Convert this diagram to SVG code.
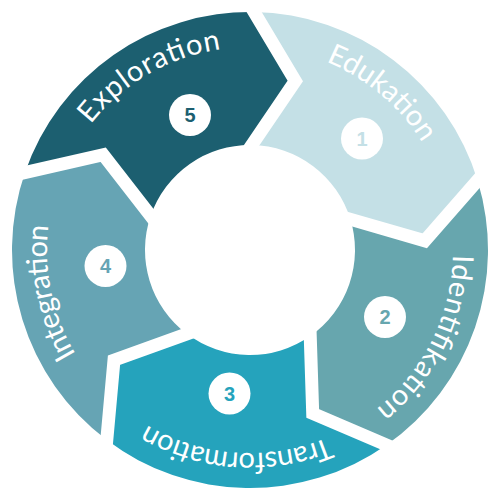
<svg xmlns="http://www.w3.org/2000/svg" xmlns:xlink="http://www.w3.org/1999/xlink" width="500" height="500" viewBox="0 0 500 500">
<style>
.lbl{font-family:"Lato","Liberation Sans",sans-serif;font-size:29px;font-weight:400;fill:#ffffff}
.num{font-family:"Liberation Sans","DejaVu Sans",sans-serif;font-size:20px;font-weight:bold;text-anchor:middle}
.badge{fill:#ffffff}
.gap{fill:none;stroke:#ffffff;stroke-width:13;stroke-linejoin:miter}
</style>
<defs>
<path id="a5" d="M59.24,180.57 A203,203 0 0 1 285.25,50.09"/>
<path id="a1" d="M250,47 A203,203 0 0 1 449.91,214.75"/>
<path id="a2" d="M447.40,202.62 A203,203 0 0 1 330.94,436.17"/>
<path id="a3" d="M369.32,414.23 A203,203 0 0 1 108.98,396.02"/>
<path id="a4" d="M125.01,409.96 A203,203 0 0 1 70.77,154.69"/>
<polyline id="sep" points="246.46,-0.84 295.29,80.96 243.41,157.43"/>
</defs>
<rect width="500" height="500" fill="#ffffff"/>
<g id="node-edukation">
<path fill="#c4e0e6" d="M254.15,12.04 A238,238 0 0 1 477.60,180.42 L424.76,240.84 L350.41,219.30 A105,105 0 0 0 251.83,145.02 L295.29,80.96 Z"/>
<text class="lbl"><textPath xlink:href="#a1" href="#a1" startOffset="50%" text-anchor="middle" textLength="128" lengthAdjust="spacing">Edukation</textPath></text>
<circle class="badge" cx="362" cy="138.5" r="21"/>
<text class="num" x="362" y="145.5" fill="#c4e0e6">1</text>
</g>
<g id="node-identifikation">
<path fill="#67a6ae" d="M477.60,180.42 A238,238 0 0 1 386.51,444.96 L312.71,413.38 L310.23,336.01 A105,105 0 0 0 350.41,219.30 L424.76,240.84 Z"/>
<text class="lbl"><textPath xlink:href="#a2" href="#a2" startOffset="50%" text-anchor="middle" textLength="178" lengthAdjust="spacing">Identifikation</textPath></text>
<circle class="badge" cx="385" cy="317" r="21"/>
<text class="num" x="385" y="324" fill="#67a6ae">2</text>
</g>
<g id="node-transformation">
<path fill="#25a3bc" d="M386.51,444.96 A238,238 0 0 1 106.77,440.08 L114.01,360.13 L186.81,333.86 A105,105 0 0 0 310.23,336.01 L312.71,413.38 Z"/>
<text class="lbl"><textPath xlink:href="#a3" href="#a3" startOffset="50%" text-anchor="middle" textLength="188" lengthAdjust="spacing">Transformation</textPath></text>
<circle class="badge" cx="229.5" cy="393.5" r="21"/>
<text class="num" x="229.5" y="400.5" fill="#25a3bc">3</text>
</g>
<g id="node-integration">
<path fill="#66a4b4" d="M106.77,440.08 A238,238 0 0 1 24.97,172.51 L103.23,154.69 L150.72,215.82 A105,105 0 0 0 186.81,333.86 L114.01,360.13 Z"/>
<text class="lbl"><textPath xlink:href="#a4" href="#a4" startOffset="50%" text-anchor="middle" textLength="134" lengthAdjust="spacing">Integration</textPath></text>
<circle class="badge" cx="105.5" cy="266" r="21"/>
<text class="num" x="105.5" y="273" fill="#66a4b4">4</text>
</g>
<g id="node-exploration">
<path fill="#1c5f70" d="M24.97,172.51 A238,238 0 0 1 254.15,12.04 L295.29,80.96 L251.83,145.02 A105,105 0 0 0 150.72,215.82 L103.23,154.69 Z"/>
<text class="lbl"><textPath xlink:href="#a5" href="#a5" startOffset="50%" text-anchor="middle" textLength="154" lengthAdjust="spacing">Exploration</textPath></text>
<circle class="badge" cx="190" cy="115" r="21"/>
<text class="num" x="190" y="122" fill="#1c5f70">5</text>
</g>
<g id="gaps">
<use xlink:href="#sep" href="#sep" class="gap"/>
<use xlink:href="#sep" href="#sep" class="gap" transform="rotate(72 250 250)"/>
<use xlink:href="#sep" href="#sep" class="gap" transform="rotate(144 250 250)"/>
<use xlink:href="#sep" href="#sep" class="gap" transform="rotate(216 250 250)"/>
<use xlink:href="#sep" href="#sep" class="gap" transform="rotate(288 250 250)"/>
</g>
</svg>
